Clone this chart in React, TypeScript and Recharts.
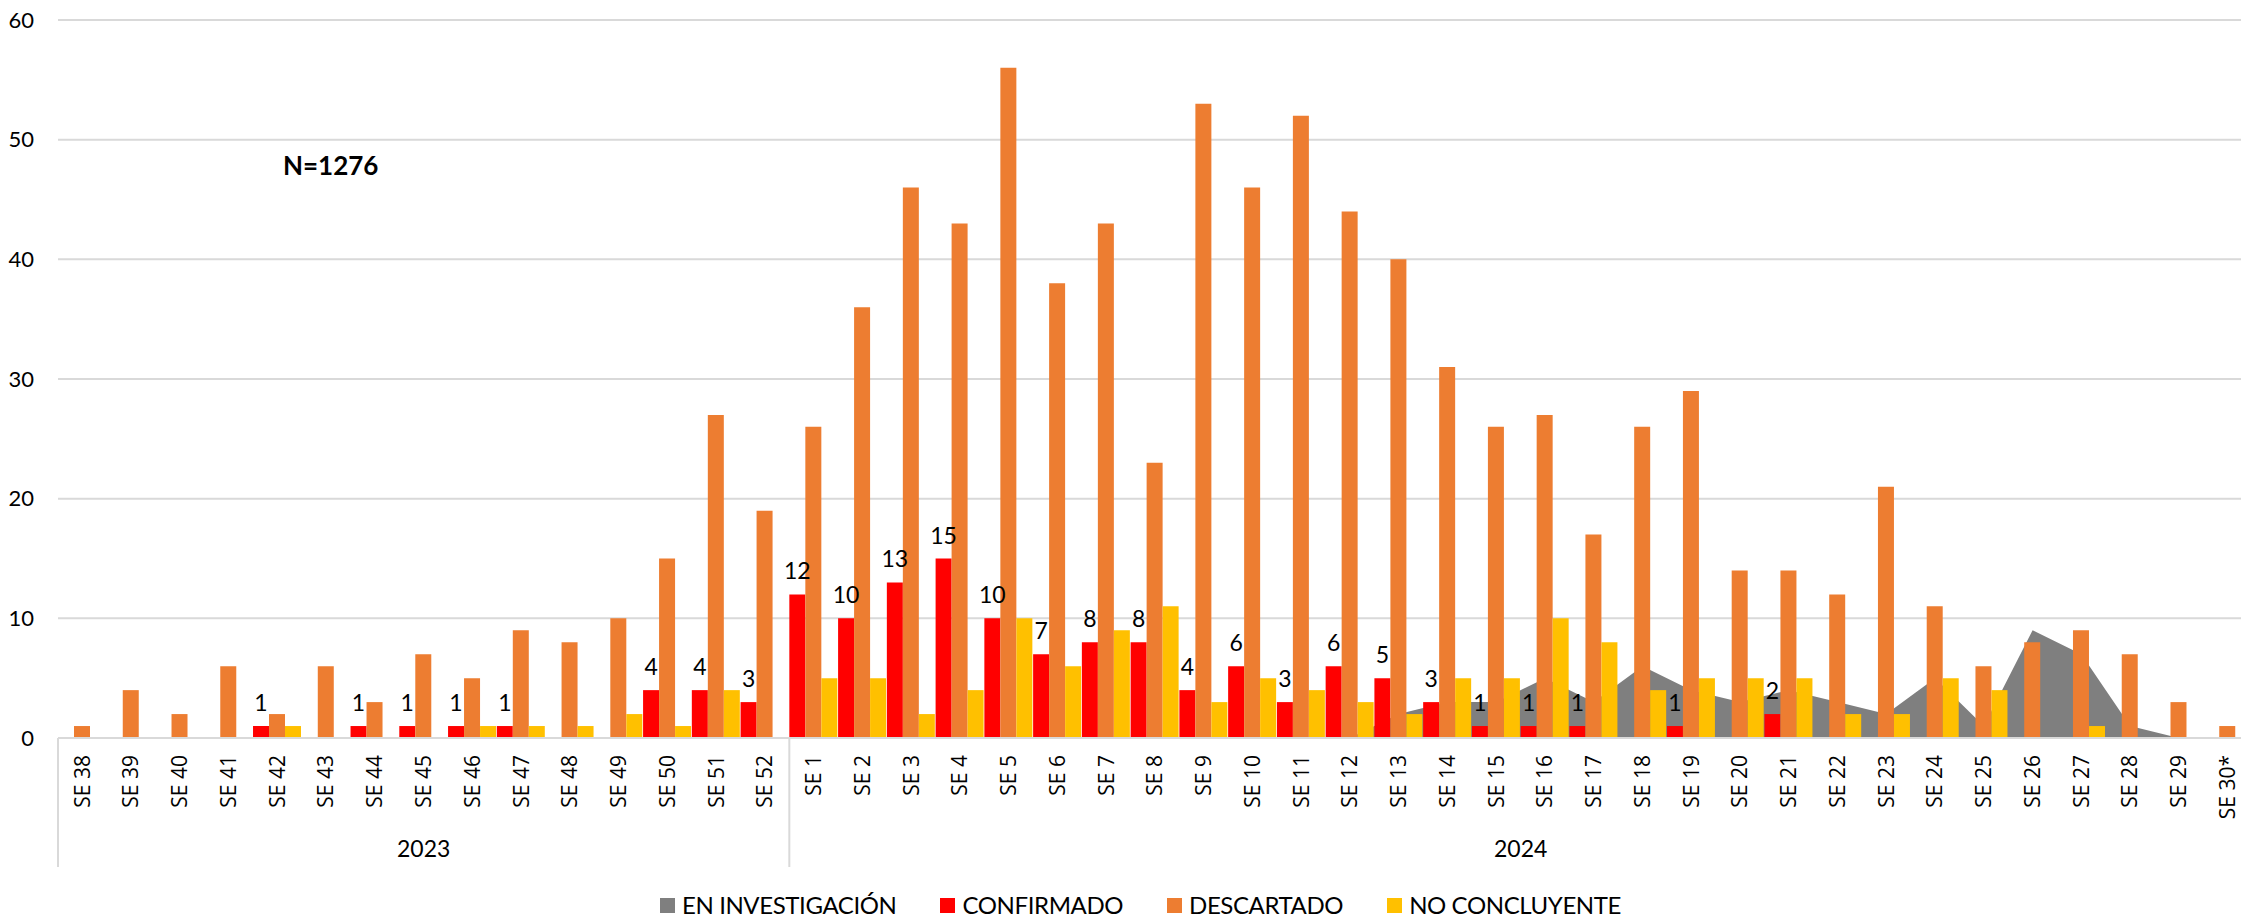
import React from "react";
import { ComposedChart, Area, Bar, XAxis, YAxis, CartesianGrid, LabelList } from "recharts";

// Semanas epidemiológicas (SE 38/2023 a SE 30/2024)
const weeks = [
  "SE 38", "SE 39", "SE 40", "SE 41", "SE 42", "SE 43", "SE 44", "SE 45",
  "SE 46", "SE 47", "SE 48", "SE 49", "SE 50", "SE 51", "SE 52",
  "SE 1", "SE 2", "SE 3", "SE 4", "SE 5", "SE 6", "SE 7", "SE 8", "SE 9", "SE 10",
  "SE 11", "SE 12", "SE 13", "SE 14", "SE 15", "SE 16", "SE 17", "SE 18", "SE 19", "SE 20",
  "SE 21", "SE 22", "SE 23", "SE 24", "SE 25", "SE 26", "SE 27", "SE 28", "SE 29", "SE 30*",
];
const yearLabels = ["2023", "2024"];
const yearSizes = [15, 30];

const investigacion = [
  0, 0, 0, 0, 0, 0, 0, 0, 0, 0, 0, 0, 0, 0, 0,
  0, 0, 0, 0, 0, 0, 0, 0, 0, 0, 0, 0, 2, 3, 3, 5, 3, 6, 4, 3, 4, 3, 2, 5, 1, 9, 7, 1, 0, 0,
];
const confirmado = [
  0, 0, 0, 0, 1, 0, 1, 1, 1, 1, 0, 0, 4, 4, 3,
  12, 10, 13, 15, 10, 7, 8, 8, 4, 6, 3, 6, 5, 3, 1, 1, 1, 0, 1, 0, 2, 0, 0, 0, 0, 0, 0, 0, 0, 0,
];
const descartado = [
  1, 4, 2, 6, 2, 6, 3, 7, 5, 9, 8, 10, 15, 27, 19,
  26, 36, 46, 43, 56, 38, 43, 23, 53, 46, 52, 44, 40, 31, 26, 27, 17, 26, 29, 14, 14, 12, 21, 11, 6, 8, 9, 7, 3, 1,
];
const noConcluyente = [
  0, 0, 0, 0, 1, 0, 0, 0, 1, 1, 1, 2, 1, 4, 0,
  5, 5, 2, 4, 10, 6, 9, 11, 3, 5, 4, 3, 2, 5, 5, 10, 8, 4, 5, 5, 5, 2, 2, 5, 4, 0, 1, 0, 0, 0,
];
const yTicks = [0, 10, 20, 30, 40, 50, 60];

const COLORS = {
  investigacion: "#7F7F7F",
  confirmado: "#FF0000",
  descartado: "#ED7D31",
  noConcluyente: "#FFC000",
};

const legendItems = [
  { label: "EN INVESTIGACIÓN", color: COLORS.investigacion },
  { label: "CONFIRMADO", color: COLORS.confirmado },
  { label: "DESCARTADO", color: COLORS.descartado },
  { label: "NO CONCLUYENTE", color: COLORS.noConcluyente },
];

const CHART_W = 2260;
const CHART_H = 918;
const MARGIN = { top: 20, right: 8, bottom: 50, left: 0 };
const Y_W = 58;
const BAND = (CHART_W - MARGIN.left - MARGIN.right - Y_W) / weeks.length;
const TICK_GAP = 17;

const rows = weeks.map((week, i) => ({
  week,
  investigacion: investigacion[i],
  confirmado: confirmado[i],
  descartado: descartado[i],
  noConcluyente: noConcluyente[i],
}));

// first index of every year group
const yearStarts = yearSizes.map((_, g) => yearSizes.slice(0, g).reduce((a, b) => a + b, 0));

function WeekTick(props: any) {
  const { x, y, payload } = props;
  const idx = payload.index;
  const g = yearStarts.indexOf(idx);
  const axisY = y - TICK_GAP;
  const left = x - BAND / 2;
  return (
    <g>
      <text
        x={x}
        y={y}
        transform={`rotate(-90, ${x}, ${y})`}
        textAnchor="end"
        dy="0.35em"
        fontFamily="'Open Sans', sans-serif"
        fontSize={21}
        fill="#000"
      >
        {payload.value}
      </text>
      {g >= 0 && (
        <>
          <line x1={left} x2={left} y1={axisY} y2={axisY + 129} stroke="#D9D9D9" strokeWidth={2} />
          <text
            x={left + (yearSizes[g] * BAND) / 2}
            y={axisY + 111}
            textAnchor="middle"
            dy="0.35em"
            fontFamily="Lato, sans-serif"
            fontSize={23}
            fill="#000"
          >
            {yearLabels[g]}
          </text>
        </>
      )}
    </g>
  );
}

export default function App() {
  return (
    <div
      style={{
        position: "absolute",
        left: 0,
        top: 0,
        width: 2241,
        height: 918,
        overflow: "hidden",
        background: "#fff",
      }}
    >
      <ComposedChart
        width={CHART_W}
        height={CHART_H}
        data={rows}
        margin={MARGIN}
        barCategoryGap={0}
        barGap={0}
      >
        <CartesianGrid vertical={false} stroke="#D9D9D9" strokeWidth={2} />
        <XAxis
          dataKey="week"
          interval={0}
          height={130}
          tickLine={false}
          tickSize={0}
          tickMargin={TICK_GAP}
          axisLine={{ stroke: "#D9D9D9", strokeWidth: 2 }}
          tick={(p: any) => <WeekTick {...p} />}
        />
        <YAxis
          domain={[0, 60]}
          ticks={yTicks}
          interval={0}
          width={Y_W}
          axisLine={false}
          tickLine={false}
          tickSize={0}
          tickMargin={24}
          tick={{ fontSize: 22, fill: "#000", fontFamily: "Lato, sans-serif" }}
        />
        <Area
          type="linear"
          dataKey="investigacion"
          name="EN INVESTIGACIÓN"
          fill={COLORS.investigacion}
          fillOpacity={1}
          stroke="none"
          dot={false}
          activeDot={false}
          isAnimationActive={false}
        />
        <Bar dataKey="confirmado" name="CONFIRMADO" fill={COLORS.confirmado} isAnimationActive={false}>
          <LabelList
            dataKey="confirmado"
            position="top"
            offset={15}
            formatter={(v: any) => (Number(v) > 0 ? v : "")}
            style={{ fontSize: 23, fill: "#000", fontFamily: "Lato, sans-serif" }}
          />
        </Bar>
        <Bar dataKey="descartado" name="DESCARTADO" fill={COLORS.descartado} isAnimationActive={false} />
        <Bar dataKey="noConcluyente" name="NO CONCLUYENTE" fill={COLORS.noConcluyente} isAnimationActive={false} />
      </ComposedChart>

      <div
        style={{
          position: "absolute",
          left: 283,
          top: 151,
          fontFamily: "Lato, sans-serif",
          fontWeight: 700,
          fontSize: 26,
          lineHeight: "28px",
          color: "#000",
        }}
      >
        N=1276
      </div>

      <div
        style={{
          position: "absolute",
          left: 660,
          top: 893,
          height: 24,
          display: "flex",
          alignItems: "center",
          gap: 44,
          fontFamily: "Lato, sans-serif",
          fontSize: 24,
          lineHeight: "24px",
          letterSpacing: "-0.4px",
          color: "#000",
        }}
      >
        {legendItems.map((it) => (
          <div key={it.label} style={{ display: "flex", alignItems: "center", height: 24 }}>
            <span style={{ width: 15, height: 15, background: it.color, marginRight: 7, display: "inline-block" }} />
            <span>{it.label}</span>
          </div>
        ))}
      </div>
    </div>
  );
}
